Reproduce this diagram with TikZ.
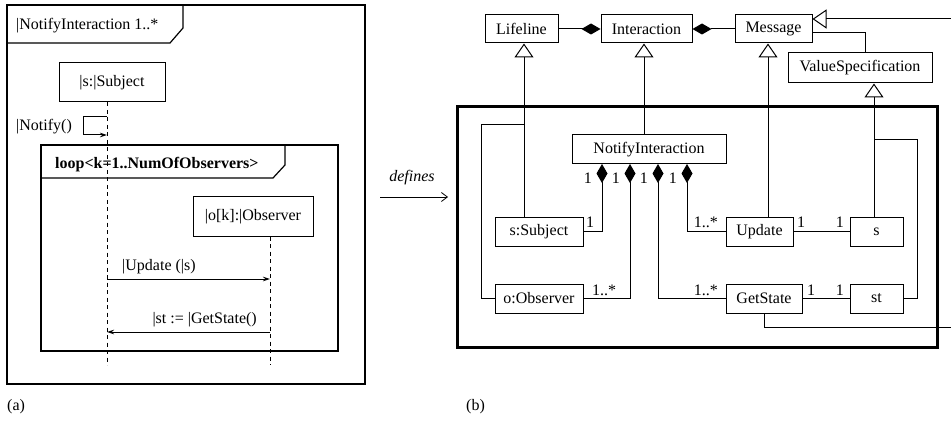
\documentclass[tikz,border=0pt]{standalone}
\usepackage{fontspec}
\setmainfont{Liberation Serif}
\usetikzlibrary{arrows.meta}
\begin{document}
\begin{tikzpicture}[x=1pt,y=-1pt,
  every node/.style={font=\fontsize{16}{19}\selectfont},
  box/.style={draw,line width=1pt,inner sep=0pt,anchor=center},
  frame/.style={line width=1.2pt},
  ln/.style={line width=1pt},
  life/.style={line width=1pt,dash pattern=on 4pt off 3.5pt},
  msg/.style={line width=1pt,-{Stealth[length=7pt,width=4.5pt]}},
  inh/.style={line width=1pt,-{Triangle[open,length=14pt,width=19pt]}},
  comp/.style={line width=1pt,{Diamond[length=19pt,width=11pt]}-},
  txt/.style={inner sep=0pt}]
\useasboundingbox (0,0) rectangle (951,425);

% ---------------- (a) sequence diagram ----------------
\draw[frame] (7,5) rectangle (365,384);
\draw[frame] (7,43) -- (170,43) -- (183,28) -- (183,5);
\node[txt,anchor=base west] (tabA) at (16,30) {|NotifyInteraction 1..*};

\node[box,minimum width=106pt,minimum height=39pt] (subjA) at (112,82.5) {|s:|Subject};

\coordinate (nf1) at (107,117);
\coordinate (nf2) at (107,135);
\draw[msg] (nf1) -- ++(-24,0) -- ++(0,18) -- (nf2);
\node[txt,anchor=base west] (notifyLbl) at (16,131) {|Notify()};

\draw[frame] (41,145) rectangle (338,351);
\draw[frame] (41,178) -- (273,178) -- (285,165) -- (285,145);
\node[txt,anchor=base west,font=\fontsize{16}{19}\selectfont\bfseries] (loopLbl) at (55,169) {loop<k=1..NumOfObservers>};

\node[box,minimum width=120pt,minimum height=39pt] (obsA) at (253,216.5) {|o[k]:|Observer};

\coordinate (sEnd) at (107,365);
\coordinate (oEnd) at (270,365);
\draw[life] (subjA.south -| sEnd) -- (sEnd);
\draw[life] (obsA.south -| oEnd) -- (oEnd);

\coordinate (u1) at (107,279);
\coordinate (u2) at (270,279);
\draw[msg] (u1) -- (u2);
\node[txt,anchor=base west] (updLbl) at (122,270) {|Update (|s)};

\coordinate (g1) at (270,332);
\coordinate (g2) at (107,332);
\draw[msg] (g1) -- (g2);
\node[txt,anchor=base east] (getLbl) at (257,323) {|st := |GetState()};

\node[txt,anchor=base west] (capA) at (7,410) {(a)};

% ---------------- arrow between the parts ----------------
\node[txt,anchor=base,font=\fontsize{16}{19}\selectfont\itshape] (defLbl) at (412,182) {defines};
\coordinate (da) at (380,197);
\coordinate (db) at (448,197);
\draw[line width=0.8pt,-{Straight Barb[length=6pt,width=9pt]}] (da) -- (db);

% ---------------- (b) metamodel instance ----------------
\node[box,minimum width=73pt,minimum height=28pt] (Lifeline) at (521.5,29) {Lifeline};
\node[box,minimum width=91pt,minimum height=28pt] (Interaction) at (646.5,29) {Interaction};
\node[box,minimum width=77pt,minimum height=28pt] (Message) at (773.5,29) {Message};
\node[box,minimum width=144pt,minimum height=30pt] (VS) at (860,68) {ValueSpecification};

\draw[line width=3pt] (457,107) rectangle (937,347);

\node[box,minimum width=154pt,minimum height=29pt] (NI) at (649,149.5) {NotifyInteraction};
\node[box,minimum width=88pt,minimum height=29pt] (sSubj) at (539,231.5) {s:Subject};
\node[box,minimum width=88pt,minimum height=29pt] (oObs) at (539,298.5) {o:Observer};
\node[box,minimum width=67pt,minimum height=29pt] (Update) at (759.5,231.5) {Update};
\node[box,minimum width=53pt,minimum height=29pt] (sB) at (876.5,231.5) {s};
\node[box,minimum width=76pt,minimum height=29pt] (GetState) at (764,298.5) {GetState};
\node[box,minimum width=53pt,minimum height=29pt] (st) at (876.5,298.5) {st};

% compositions in the metamodel
\draw[comp] (Interaction.west) -- (Lifeline.east);
\draw[comp] (Interaction.east) -- (Message.west);
\draw[ln] ([yshift=-4pt]Message.east) -| ([xshift=5pt]VS.north);

% instance-of (generalisation) links
\coordinate (xLife) at (524,0);
\coordinate (xInt) at (644,0);
\coordinate (xMsg) at (768,0);
\coordinate (xVS) at (874,0);
\draw[inh] (sSubj.north -| xLife) -- (Lifeline.south -| xLife);
\draw[inh] (NI.north -| xInt) -- (Interaction.south -| xInt);
\draw[inh] (Update.north -| xMsg) -- (Message.south -| xMsg);
\draw[inh] (sB.north -| xVS) -- (VS.south -| xVS);

\coordinate (lifeJoin) at (524,125);
\draw[ln] (oObs.west) -- ++(-13,0) |- (lifeJoin);
\coordinate (vsJoin) at (874,140);
\draw[ln] (st.east) -- ++(14,0) |- (vsJoin);

\coordinate (offR) at (958,327);
\draw[inh] (GetState.south) |- (offR) |- ([yshift=10pt]Message.east);

% compositions of NotifyInteraction
\coordinate (nd1) at (602,164);
\coordinate (nd2) at (630,164);
\coordinate (nd3) at (658,164);
\coordinate (nd4) at (687,164);
\draw[comp] (nd1) |- (sSubj.east);
\draw[comp] (nd2) |- (oObs.east);
\draw[comp] (nd3) |- (GetState.west);
\draw[comp] (nd4) |- (Update.west);

\node[txt,anchor=base east] (m1) at (592,184) {1};
\node[txt,anchor=base east] (m2) at (620,184) {1};
\node[txt,anchor=base east] (m3) at (648,184) {1};
\node[txt,anchor=base east] (m4) at (677,184) {1};

\node[txt,anchor=base west] (m5) at (586,227) {1};
\node[txt,anchor=base west] (m6) at (592,295) {1..*};
\node[txt,anchor=base east] (m7) at (718,295) {1..*};
\node[txt,anchor=base east] (m8) at (718,227) {1..*};

% associations
\draw[ln] (Update.east) -- (sB.west);
\draw[ln] (GetState.east) -- (st.west);
\node[txt,anchor=base west] (m9) at (797,227) {1};
\node[txt,anchor=base east] (m10) at (844,227) {1};
\node[txt,anchor=base west] (m11) at (807,295) {1};
\node[txt,anchor=base east] (m12) at (844,295) {1};

\node[txt,anchor=base west] (capB) at (466,410) {(b)};
\end{tikzpicture}
\end{document}
